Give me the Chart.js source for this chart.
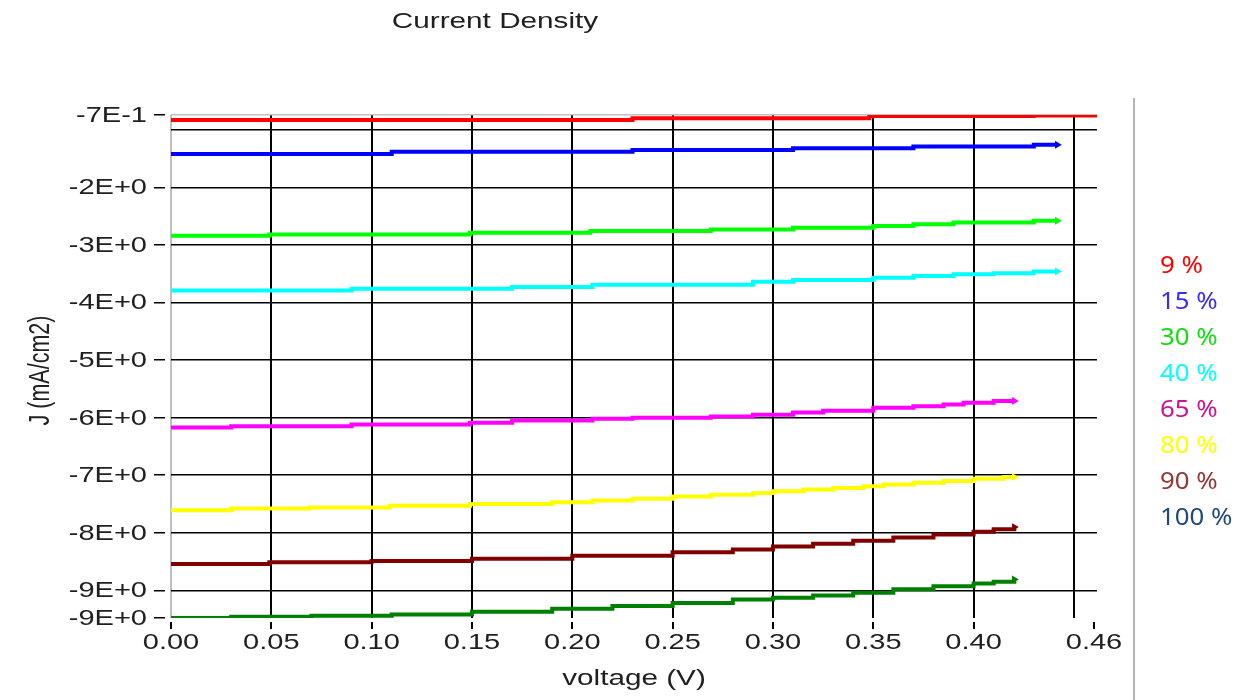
<!DOCTYPE html>
<html>
<head>
<meta charset="utf-8">
<title>Current Density</title>
<script src="https://cdn.jsdelivr.net/npm/chart.js@4/dist/chart.umd.min.js"></script>
<style>
  html, body { margin: 0; padding: 0; background: #ffffff; }
  #wrap { position: relative; width: 1244px; height: 700px; }
  canvas { display: block; }
</style>
</head>
<body>
<div id="wrap"><canvas id="c" width="1244" height="700"></canvas></div>
<script>
// ---- axis ticks ----
const xTickValues = [0, 0.05, 0.10, 0.15, 0.20, 0.25, 0.30, 0.35, 0.40, 0.45, 0.46];
const xTickLabels = ['0.00', '0.05', '0.10', '0.15', '0.20', '0.25', '0.30', '0.35', '0.40', '', '0.46'];
const yTickValues = [-0.743, -1, -2, -3, -4, -5, -6, -7, -8, -9, -9.48];
const yTickLabels = ['-7E-1', '', '-2E+0', '-3E+0', '-4E+0', '-5E+0', '-6E+0', '-7E+0', '-8E+0', '-9E+0', '-9E+0'];
const xMin = 0, xMax = 0.4615;
const yMin = -9.48, yMax = -0.743;

// ---- series: voltage (V) and current density (mA/cm2) at each step ----
const v9 = [0, 0.23, 0.348, 0.43, 0.4615];
const j9 = [-0.83, -0.80, -0.76, -0.75, -0.75];

const v15 = [0, 0.11, 0.23, 0.31, 0.37, 0.43, 0.4417];
const j15 = [-1.42, -1.38, -1.35, -1.32, -1.29, -1.26, -1.26];

const v30 = [0, 0.049, 0.149, 0.209, 0.269, 0.31, 0.35, 0.37, 0.39, 0.43, 0.4417];
const j30 = [-2.84, -2.82, -2.79, -2.76, -2.73, -2.70, -2.67, -2.64, -2.61, -2.58, -2.58];

const v40 = [0, 0.09, 0.17, 0.21, 0.29, 0.31, 0.35, 0.37, 0.39, 0.41, 0.43, 0.4417];
const j40 = [-3.79, -3.76, -3.73, -3.69, -3.64, -3.61, -3.57, -3.54, -3.51, -3.49, -3.46, -3.46];

const v65 = [0, 0.03, 0.09, 0.149, 0.17, 0.21, 0.23, 0.269, 0.29, 0.31, 0.325, 0.35, 0.37, 0.385, 0.395, 0.41, 0.4203];
const j65 = [-6.17, -6.15, -6.12, -6.09, -6.05, -6.02, -6.00, -5.98, -5.95, -5.91, -5.88, -5.83, -5.80, -5.77, -5.74, -5.71, -5.71];

const v80 = [0, 0.03, 0.069, 0.109, 0.149, 0.19, 0.21, 0.23, 0.25, 0.269, 0.29, 0.30, 0.315, 0.33, 0.345, 0.355, 0.37, 0.385, 0.40, 0.415, 0.4203];
const j80 = [-7.61, -7.58, -7.56, -7.53, -7.50, -7.47, -7.44, -7.41, -7.37, -7.34, -7.31, -7.28, -7.25, -7.22, -7.19, -7.16, -7.13, -7.10, -7.06, -7.03, -7.03];

const v90 = [0, 0.049, 0.10, 0.15, 0.20, 0.25, 0.28, 0.30, 0.32, 0.34, 0.36, 0.38, 0.40, 0.41, 0.4203];
const j90 = [-8.54, -8.51, -8.49, -8.45, -8.40, -8.34, -8.29, -8.24, -8.19, -8.14, -8.08, -8.03, -7.98, -7.94, -7.90];

const v100 = [0, 0.03, 0.07, 0.11, 0.15, 0.19, 0.22, 0.25, 0.28, 0.30, 0.32, 0.34, 0.36, 0.38, 0.40, 0.41, 0.4203];
const j100 = [-9.48, -9.46, -9.44, -9.42, -9.37, -9.32, -9.27, -9.22, -9.16, -9.13, -9.09, -9.04, -8.98, -8.93, -8.88, -8.85, -8.81];

const seriesNames = ['9 %', '15 %', '30 %', '40 %', '65 %', '80 %', '90 %', '100 %'];
const seriesV = [v9, v15, v30, v40, v65, v80, v90, v100];
const seriesJ = [j9, j15, j30, j40, j65, j80, j90, j100];
const lineColors = ['#ff0000', '#0000ff', '#00ff00', '#00ffff', '#ff00ff', '#ffff00', '#800000', '#008000'];
const legendColors = ['#ff0000', '#3a2cf0', '#11dd11', '#00ffff', '#cc1199', '#ffff00', '#943634', '#1f497d'];

// ---- text styling ----
const STRETCH = 1.35;
const AXIS_FONT = '21.5px "Liberation Sans", Arial, sans-serif';
const TITLE_FONT = '22px "Liberation Sans", Arial, sans-serif';
const LEGEND_FONT = '23px "Noto Sans", "Open Sans", sans-serif';
const TEXT_COLOR = '#202020';

function stretchedText(ctx, text, x, y, opts) {
  ctx.save();
  ctx.translate(x, y);
  ctx.scale(opts.stretch || STRETCH, 1);
  if (opts.rotate) ctx.rotate(opts.rotate);
  ctx.font = opts.font;
  ctx.fillStyle = opts.color || TEXT_COLOR;
  ctx.textAlign = opts.align || 'center';
  ctx.textBaseline = opts.baseline || 'middle';
  ctx.fillText(text, 0, 0);
  ctx.restore();
}

const datasets = seriesNames.map((name, i) => ({
  label: name,
  data: seriesV[i].map((v, k) => ({ x: v, y: seriesJ[i][k] })),
  borderColor: lineColors[i],
  backgroundColor: lineColors[i],
  borderWidth: 4,
  stepped: true,
  fill: false,
  pointStyle: 'triangle',
  rotation: 90,
  pointBorderWidth: 0,
  pointBackgroundColor: lineColors[i],
  pointRadius: (c) => (c.dataIndex === seriesV[i].length - 1 && i !== 0) ? 4.5 : 0,
  pointHoverRadius: 0
}));

const textPlugin = {
  id: 'textLayer',
  afterDraw(chart) {
    const ctx = chart.ctx;
    const xs = chart.scales.x, ys = chart.scales.y;
    const area = chart.chartArea;

    // chart title
    stretchedText(ctx, 'Current Density', 495, 22, { font: TITLE_FONT });

    // y tick labels
    yTickValues.forEach((v, i) => {
      if (!yTickLabels[i]) return;
      stretchedText(ctx, yTickLabels[i], 147, ys.getPixelForValue(v) + 1, { font: AXIS_FONT, align: 'right' });
    });
    // x tick labels
    xTickValues.forEach((v, i) => {
      if (!xTickLabels[i]) return;
      stretchedText(ctx, xTickLabels[i], xs.getPixelForValue(v), 643, { font: AXIS_FONT });
    });

    // axis titles
    stretchedText(ctx, 'voltage (V)', (area.left + area.right) / 2, 679, { font: TITLE_FONT });
    stretchedText(ctx, 'J (mA/cm2)', 41, (area.top + area.bottom) / 2 + 4, { font: AXIS_FONT, rotate: -Math.PI / 2 });

    // separator and series key on the right
    ctx.save();
    ctx.strokeStyle = '#b4b4b4';
    ctx.lineWidth = 2;
    ctx.beginPath();
    ctx.moveTo(1134, 98);
    ctx.lineTo(1134, 700);
    ctx.stroke();
    ctx.restore();
    seriesNames.forEach((name, i) => {
      stretchedText(ctx, name, 1160, 273 + i * 36, {
        font: LEGEND_FONT, align: 'left', baseline: 'alphabetic',
        color: legendColors[i], stretch: 1.12
      });
    });
  }
};

new Chart(document.getElementById('c'), {
  type: 'line',
  data: { datasets },
  plugins: [textPlugin],
  options: {
    responsive: false,
    animation: false,
    devicePixelRatio: 1,
    layout: { padding: { top: 115, right: 147, left: 0, bottom: 0 } },
    plugins: { legend: { display: false }, title: { display: false }, tooltip: { enabled: false } },
    scales: {
      x: {
        type: 'linear',
        min: xMin, max: xMax,
        afterBuildTicks: (s) => { s.ticks = xTickValues.map(v => ({ value: v })); },
        afterFit: (s) => { s.height = 82; },
        ticks: { display: false, autoSkip: false },
        border: { display: false },
        grid: {
          drawTicks: true,
          tickLength: 11,
          tickBorderDash: [0, 4, 7, 100],
          tickWidth: 2,
          lineWidth: 2,
          color: (c) => {
            const v = c.tick ? c.tick.value : null;
            if (v === 0) return '#c0c0c0';
            if (v === 0.46) return 'rgba(0,0,0,0)';
            return '#000000';
          },
          tickColor: (c) => (c.tick && c.tick.value === 0.45) ? 'rgba(0,0,0,0)' : '#000000'
        }
      },
      y: {
        type: 'linear',
        min: yMin, max: yMax,
        afterBuildTicks: (s) => { s.ticks = yTickValues.map(v => ({ value: v })); },
        afterFit: (s) => { s.width = 171; },
        ticks: { display: false, autoSkip: false },
        border: { display: false },
        grid: {
          drawTicks: true,
          tickLength: 17,
          tickBorderDash: [11, 100],
          tickWidth: 1.5,
          lineWidth: 1.5,
          color: (c) => {
            const v = c.tick ? c.tick.value : null;
            if (v === yMax) return '#c0c0c0';
            if (v === yMin) return 'rgba(0,0,0,0)';
            return '#000000';
          },
          tickColor: (c) => (c.tick && c.tick.value === -1) ? 'rgba(0,0,0,0)' : '#000000'
        }
      }
    }
  }
});
</script>
</body>
</html>
